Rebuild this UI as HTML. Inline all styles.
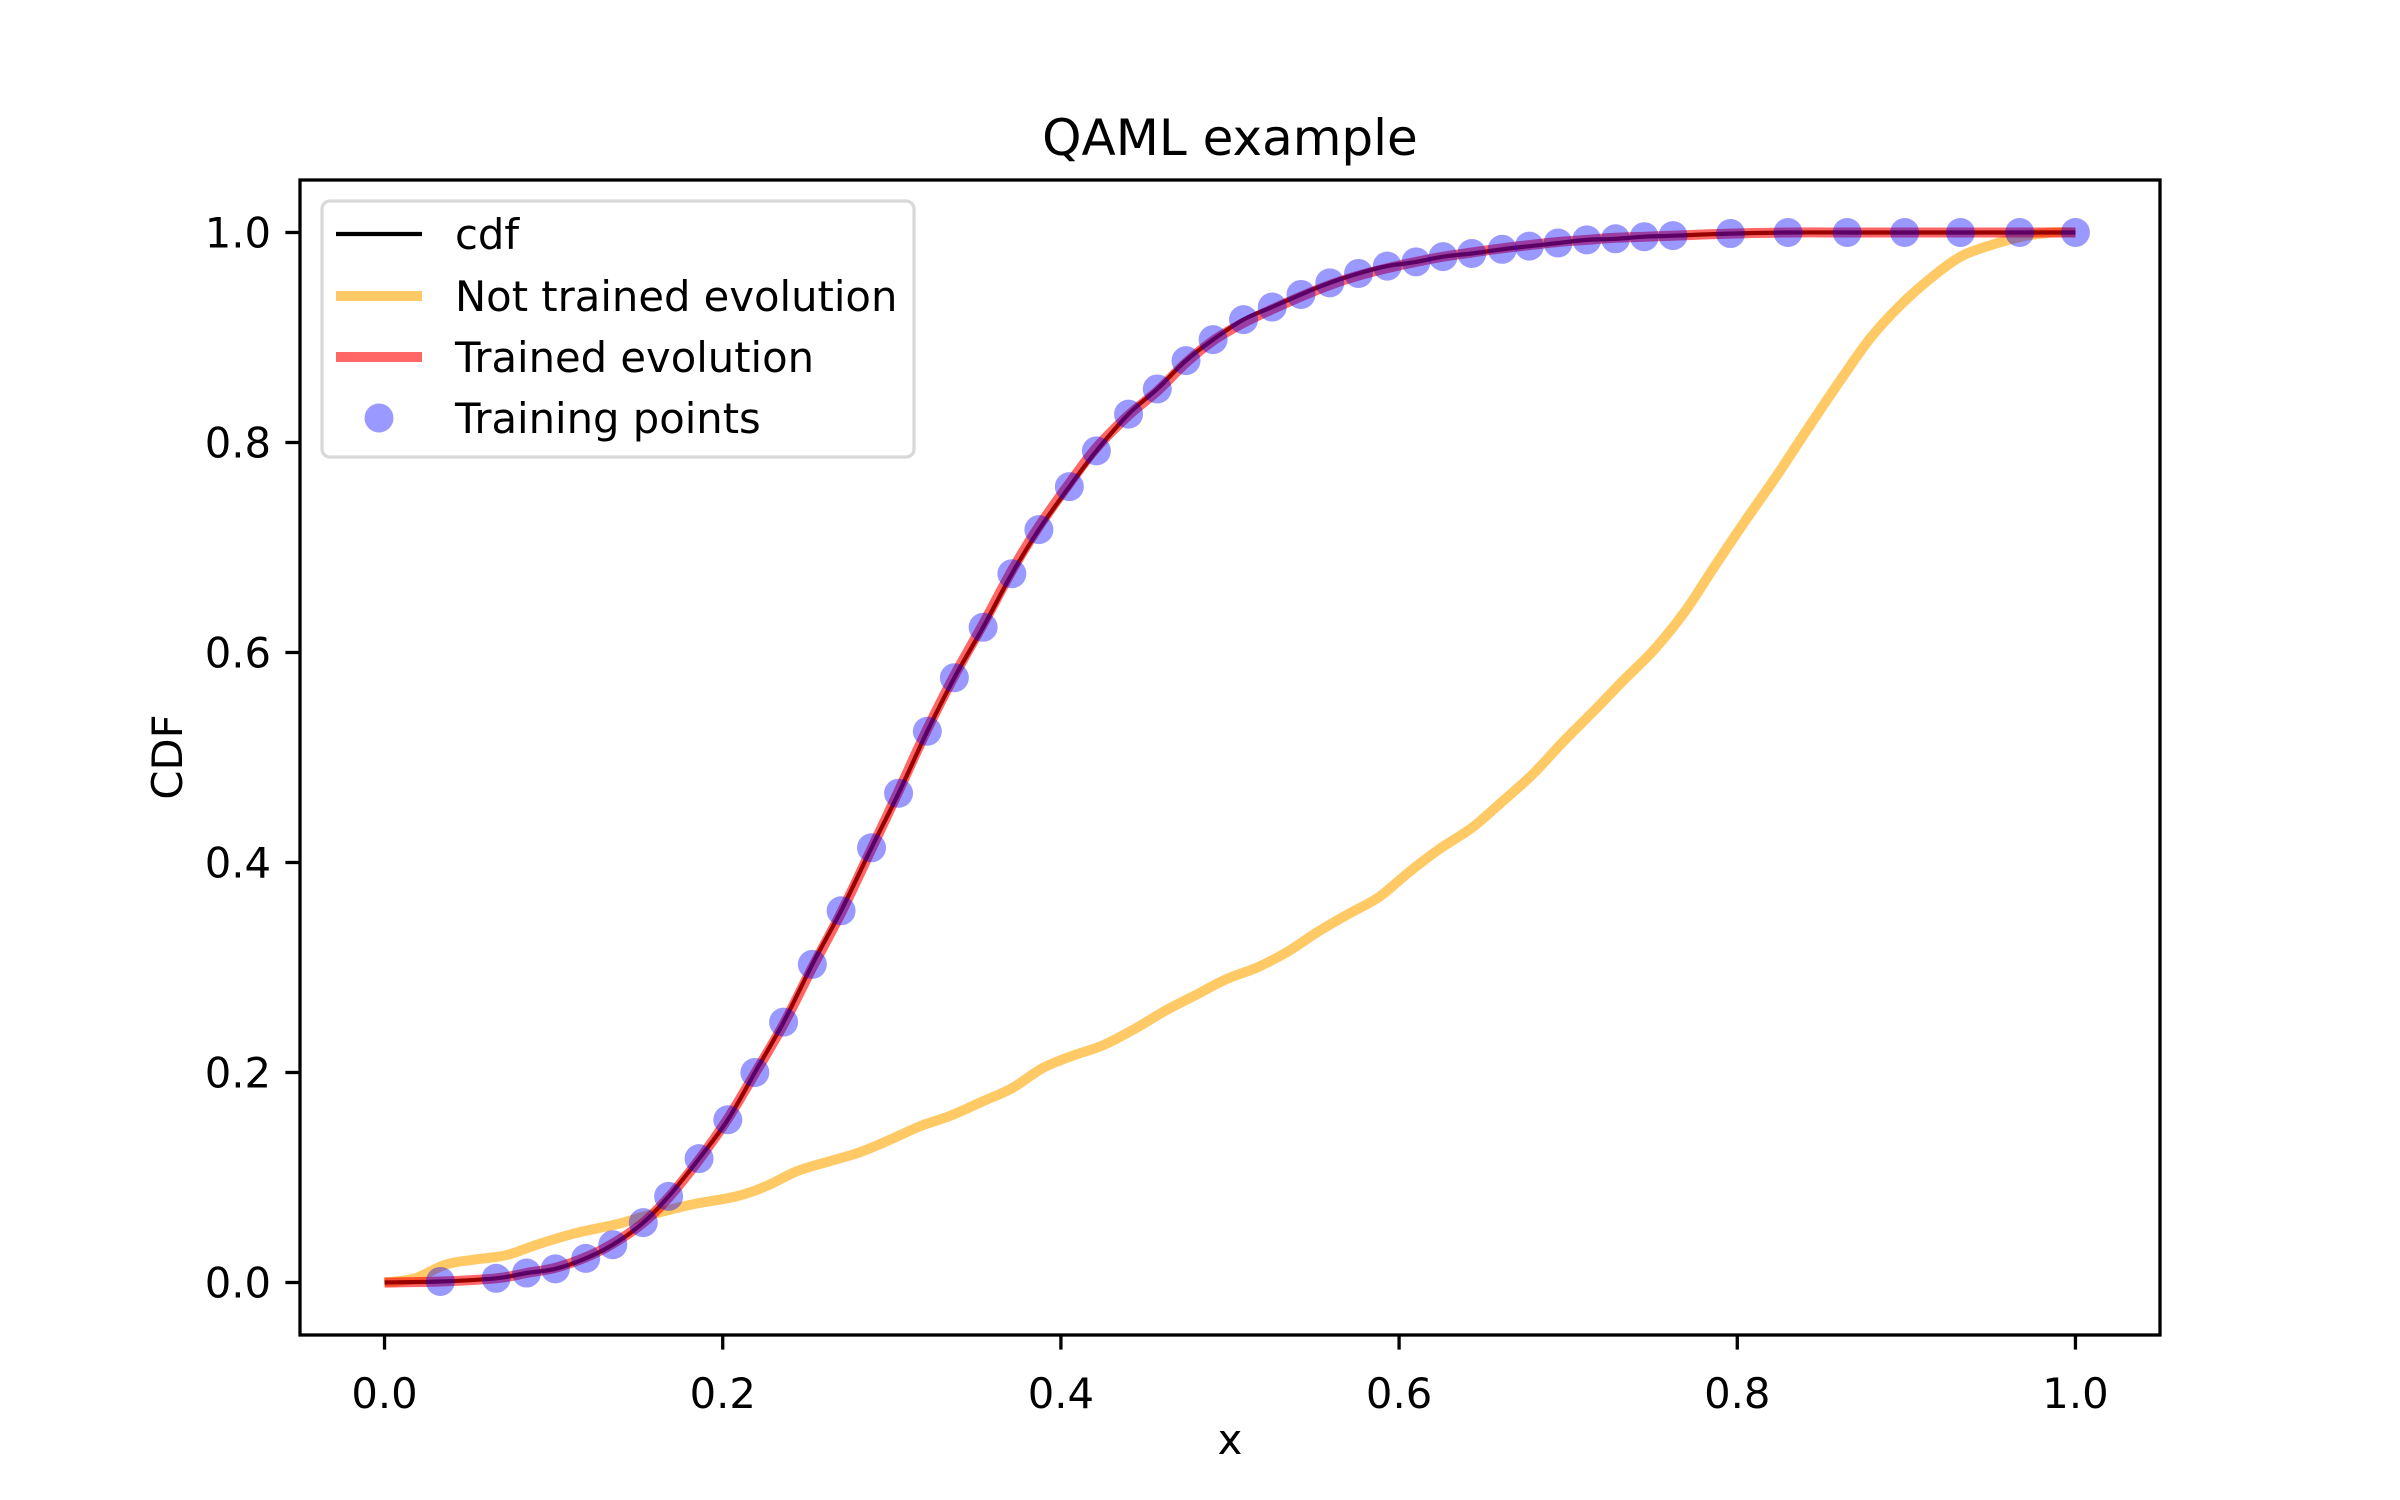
<!DOCTYPE html>
<html><head><meta charset="utf-8">
<style>
html,body{margin:0;padding:0;background:#fff;}
svg{display:block;}
text{font-family:"DejaVu Sans","Liberation Sans",sans-serif;fill:#000;}
</style></head>
<body>
<svg id="chart" width="2400" height="1500" viewBox="0 0 2400 1500" xmlns="http://www.w3.org/2000/svg">
<rect width="2400" height="1500" fill="#fff"/>
<text x="1230" y="155" font-size="50" text-anchor="middle">QAML example</text>
<text x="1230" y="1454" font-size="41.7" text-anchor="middle">x</text>
<text x="0" y="0" font-size="41.7" text-anchor="middle" transform="translate(182,757) rotate(-90)">CDF</text>
<defs><clipPath id="plotclip"><rect x="300" y="180" width="1860" height="1155"/></clipPath></defs>
<g id="series" clip-path="url(#plotclip)"></g>
<g id="ticks"></g>
<rect x="300" y="180" width="1860" height="1155" fill="none" stroke="#000" stroke-width="3.3"/>
<g>
<rect x="322" y="201" width="592" height="256" rx="8" fill="#fff" fill-opacity="0.8" stroke="#d9d9d9" stroke-width="3.3"/>
<line x1="336" y1="234" x2="422" y2="234" stroke="#000" stroke-width="4.2"/>
<text x="455" y="249" font-size="41.7">cdf</text>
<line x1="336" y1="296" x2="422" y2="296" stroke="#ffa500" stroke-opacity="0.6" stroke-width="10"/>
<text x="455" y="311" font-size="41.7">Not trained evolution</text>
<line x1="336" y1="357" x2="422" y2="357" stroke="#ff0000" stroke-opacity="0.6" stroke-width="10"/>
<text x="455" y="372" font-size="41.7">Trained evolution</text>
<circle cx="379" cy="418" r="14.5" fill="#0000ff" fill-opacity="0.4"/>
<text x="455" y="433" font-size="41.7">Training points</text>
</g>
</svg>
<script>
const xTicks = [0.0, 0.2, 0.4, 0.6, 0.8, 1.0];
const yTicks = [0.0, 0.2, 0.4, 0.6, 0.8, 1.0];
const xTickLabels = ["0.0","0.2","0.4","0.6","0.8","1.0"];
const yTickLabels = ["0.0","0.2","0.4","0.6","0.8","1.0"];
const pointX = [0.033,0.066,0.084,0.101,0.119,0.135,0.153,0.168,0.186,0.203,0.219,0.236,0.253,0.270,0.288,0.304,0.321,0.337,0.354,0.371,0.387,0.405,0.421,0.440,0.457,0.474,0.490,0.508,0.525,0.542,0.559,0.576,0.593,0.610,0.626,0.643,0.661,0.677,0.694,0.711,0.728,0.745,0.762,0.796,0.830,0.865,0.899,0.932,0.967,1.0];
const pointY = [0.001,0.004,0.009,0.013,0.023,0.036,0.057,0.082,0.118,0.155,0.200,0.248,0.303,0.354,0.414,0.466,0.525,0.576,0.624,0.675,0.717,0.758,0.792,0.827,0.851,0.878,0.898,0.917,0.929,0.941,0.952,0.961,0.968,0.972,0.977,0.980,0.984,0.987,0.990,0.993,0.994,0.996,0.997,0.999,1,1,1,1,1,1];
const cdfX = [0,0.033,0.066,0.084,0.101,0.119,0.135,0.153,0.168,0.186,0.203,0.219,0.236,0.253,0.270,0.288,0.304,0.321,0.337,0.354,0.371,0.387,0.405,0.421,0.440,0.457,0.474,0.490,0.508,0.525,0.542,0.559,0.576,0.593,0.610,0.626,0.643,0.661,0.677,0.694,0.711,0.728,0.745,0.762,0.796,0.830,0.865,0.899,0.932,0.967,1.0];
const cdfY = [0,0.001,0.004,0.009,0.013,0.023,0.036,0.057,0.082,0.118,0.155,0.200,0.248,0.303,0.354,0.414,0.466,0.525,0.576,0.624,0.675,0.717,0.758,0.792,0.827,0.851,0.878,0.898,0.917,0.929,0.941,0.952,0.961,0.968,0.972,0.977,0.980,0.984,0.987,0.990,0.993,0.994,0.996,0.997,0.999,1,1,1,1,1,1];
const trainedX = [0,0.033,0.066,0.084,0.101,0.119,0.135,0.153,0.168,0.186,0.203,0.219,0.236,0.253,0.270,0.288,0.304,0.321,0.337,0.354,0.371,0.387,0.405,0.421,0.440,0.457,0.474,0.490,0.508,0.525,0.542,0.559,0.576,0.593,0.610,0.626,0.643,0.661,0.677,0.694,0.711,0.728,0.745,0.762,0.796,0.830,0.865,0.899,0.932,0.967,1.0];
const trainedY = [0,0.001,0.004,0.009,0.014,0.024,0.037,0.057,0.081,0.117,0.156,0.199,0.246,0.300,0.352,0.413,0.468,0.527,0.578,0.627,0.678,0.720,0.761,0.795,0.826,0.849,0.876,0.897,0.914,0.927,0.939,0.950,0.959,0.966,0.972,0.977,0.981,0.985,0.988,0.991,0.993,0.995,0.996,0.997,0.999,1,1,1,1,1,1];
const untrainedX = [0,0.018,0.036,0.054,0.072,0.090,0.113,0.136,0.154,0.181,0.208,0.226,0.244,0.262,0.281,0.299,0.317,0.335,0.353,0.371,0.389,0.407,0.425,0.443,0.462,0.480,0.498,0.516,0.534,0.552,0.570,0.588,0.606,0.624,0.643,0.661,0.679,0.697,0.715,0.733,0.751,0.769,0.787,0.805,0.824,0.842,0.860,0.878,0.896,0.914,0.932,0.950,0.968,0.986,1.0];
const untrainedY = [0,0.004,0.017,0.022,0.026,0.036,0.047,0.055,0.063,0.074,0.082,0.092,0.106,0.115,0.124,0.136,0.149,0.159,0.172,0.185,0.204,0.216,0.226,0.241,0.259,0.274,0.289,0.300,0.315,0.334,0.351,0.367,0.391,0.413,0.433,0.458,0.484,0.515,0.544,0.574,0.603,0.639,0.683,0.726,0.770,0.814,0.857,0.898,0.930,0.956,0.977,0.988,0.996,1.0,1.0];

const PL=300, PR=2160, PT=180, PB=1335, XMIN=-0.05, XMAX=1.05, YMIN=-0.05, YMAX=1.05;
function sx(v){return PL+(v-XMIN)/(XMAX-XMIN)*(PR-PL);}
function sy(v){return PB-(v-YMIN)/(YMAX-YMIN)*(PB-PT);}
const NS="http://www.w3.org/2000/svg";
function mk(tag, attrs){const e=document.createElementNS(NS,tag);for(const k in attrs)e.setAttribute(k,attrs[k]);return e;}
function smoothPath(xs, ys){
  const p=xs.map((x,i)=>[sx(x),sy(ys[i])]);
  let d="M"+p[0][0].toFixed(1)+","+p[0][1].toFixed(1);
  for(let i=0;i<p.length-1;i++){
    const p0=p[Math.max(0,i-1)],p1=p[i],p2=p[i+1],p3=p[Math.min(p.length-1,i+2)];
    const c1=[p1[0]+(p2[0]-p0[0])/6,p1[1]+(p2[1]-p0[1])/6];
    const c2=[p2[0]-(p3[0]-p1[0])/6,p2[1]-(p3[1]-p1[1])/6];
    d+=" C"+c1[0].toFixed(1)+","+c1[1].toFixed(1)+" "+c2[0].toFixed(1)+","+c2[1].toFixed(1)+" "+p2[0].toFixed(1)+","+p2[1].toFixed(1);
  }
  return d;
}
const series=document.getElementById('series');
const ticks=document.getElementById('ticks');

const unt=mk('path',{d:smoothPath(untrainedX,untrainedY),fill:'none',stroke:'#ffa500','stroke-opacity':0.6,'stroke-width':10,'stroke-linejoin':'round'});


series.appendChild(unt);

const cdf=mk('path',{d:smoothPath(cdfX,cdfY),fill:'none',stroke:'#000','stroke-width':4.2,'stroke-linejoin':'round'});


series.appendChild(cdf);

const tr=mk('path',{d:smoothPath(trainedX,trainedY),fill:'none',stroke:'#ff0000','stroke-opacity':0.6,'stroke-width':10,'stroke-linejoin':'round'});


series.appendChild(tr);

pointX.forEach((x,i)=>{
  const c=mk('circle',{cx:sx(x),cy:sy(pointY[i]),r:14.5,fill:'#0000ff','fill-opacity':0.4});
  
  
  series.appendChild(c);
});

xTicks.forEach((v,i)=>{
  const l=mk('line',{x1:sx(v),x2:sx(v),y1:PB,y2:PB+14.6,stroke:'#000','stroke-width':3.3});
  
  
  ticks.appendChild(l);
  const t=mk('text',{x:sx(v),y:PB+73,'font-size':41.7,'text-anchor':'middle'});
  t.textContent=xTickLabels[i];
  
  
  ticks.appendChild(t);
});
yTicks.forEach((v,i)=>{
  const l=mk('line',{x1:PL-14.6,x2:PL,y1:sy(v),y2:sy(v),stroke:'#000','stroke-width':3.3});
  
  
  ticks.appendChild(l);
  const t=mk('text',{x:PL-29,y:sy(v)+15,'font-size':41.7,'text-anchor':'end'});
  t.textContent=yTickLabels[i];
  
  
  ticks.appendChild(t);
});
</script>
</body></html>
